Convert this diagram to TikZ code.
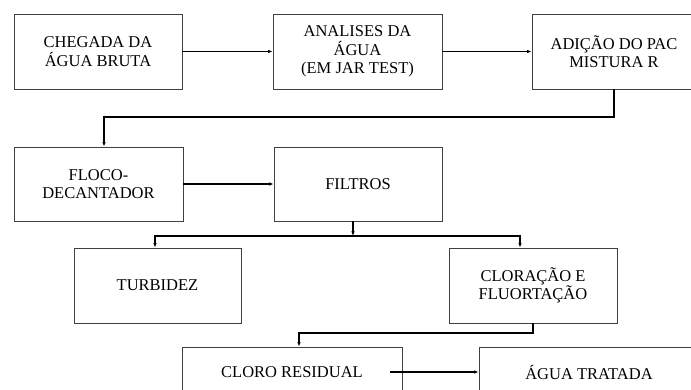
\documentclass[tikz,border=0pt]{standalone}
\usepackage{fontspec}
\setmainfont{Liberation Serif}
\usetikzlibrary{arrows.meta}

\begin{document}
\begin{tikzpicture}[x=1pt, y=-1pt,
    etapa/.style={draw=black!75, line width=0.8pt, align=center, inner sep=2pt,
        minimum height=75pt, font=\fontsize{16.5}{18.3}\selectfont},
    fluxo/.style={line width=1.5pt, -{Latex[length=4.5pt,width=3.5pt]}},
    linha/.style={line width=1.5pt}]
        \useasboundingbox (0,0) rectangle (691,390);
        \clip (0,0) rectangle (691,390);

        % Primeira fila
        \node[etapa, minimum width=168pt] (chegada) at (98,51.5) {CHEGADA DA\\ÁGUA BRUTA};
        \node[etapa, minimum width=169pt] (analises) at (357.5,51.5) {ANALISES DA\\ÁGUA\\(EM JAR TEST)};
        \node[etapa, minimum width=164pt] (adicao) at (614,51.5) {ADIÇÃO DO PAC\\MISTURA R};

        % Segunda fila
        \node[etapa, minimum width=169pt, minimum height=74pt] (floco) at (98.5,184) {FLOCO-\\DECANTADOR};
        \node[etapa, minimum width=168pt, minimum height=74pt] (filtros) at (358,184) {FILTROS};

        % Terceira fila
        \node[etapa, minimum width=167pt] (turbidez) at (157.5,285.5) {TURBIDEZ};
        \node[etapa, minimum width=168pt] (cloracao) at (533,285.5) {CLORAÇÃO E\\FLUORTAÇÃO};

        % Quarta fila (cortada embaixo)
        \node[etapa, minimum width=220pt, minimum height=50pt] (cloro) at (292,372) {CLORO RESIDUAL};
        \node[etapa, minimum width=220pt, minimum height=50pt] (agua) at (589,372) {ÁGUA TRATADA};

        % Pontos de desvio
        \coordinate (desvioA) at (614,117);
        \coordinate (ramo) at (353,236);
        \coordinate (desvioB) at (533,333);

        % Conexoes
        \draw[fluxo] (chegada) -- (analises);
        \draw[fluxo] (analises) -- (adicao);
        \draw[fluxo] (adicao.south) -- (desvioA) -| ([xshift=5.5pt]floco.north);
        \draw[fluxo] (floco) -- (filtros);
        \draw[fluxo] ([xshift=-5pt]filtros.south) -- (ramo);
        \draw[fluxo] (ramo) -| ([xshift=-2.5pt]turbidez.north);
        \draw[fluxo] (ramo) -| ([xshift=-13pt]cloracao.north);
        \draw[fluxo] (cloracao.south) -- (desvioB) -| ([xshift=7pt]cloro.north);
        \draw[fluxo] ([xshift=-12pt]cloro.east) -- (agua.west);
\end{tikzpicture}
\end{document}
